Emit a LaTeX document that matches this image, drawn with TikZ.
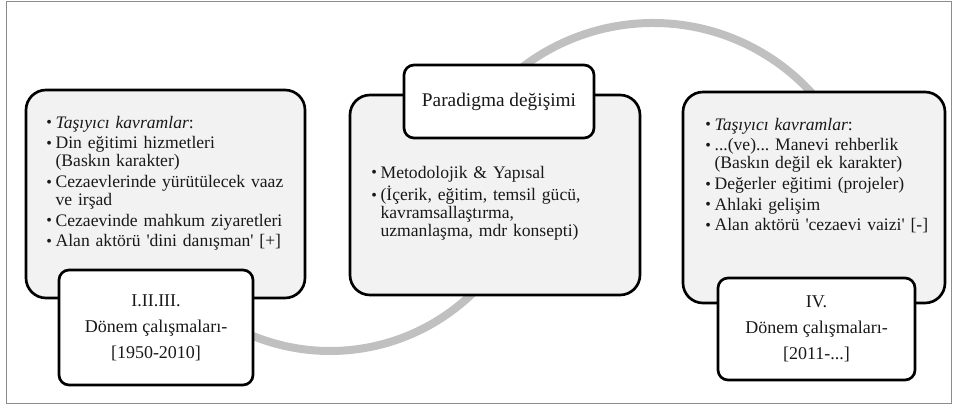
\documentclass[tikz,border=0pt]{standalone}
\usepackage{fontspec}
\setmainfont{Liberation Serif}[Ligatures=TeXOff]
\definecolor{boxfill}{HTML}{F2F2F2}
\definecolor{arcgray}{HTML}{C0C0C0}
\definecolor{framegray}{HTML}{8C8C8C}
% one bullet line, continuation lines hang under the text
\newcommand{\bul}[1]{\par\hangindent=7pt\hangafter=1\noindent\makebox[7pt][l]{\raisebox{0.4pt}{\fontsize{12}{12}\selectfont\textbullet}}#1\par\vspace{2pt}}
\tikzset{
  bigbox/.style={draw=black, line width=2pt, fill=boxfill, rounded corners=15pt, inner sep=0pt},
  labelbox/.style={draw=black, line width=2pt, fill=white, rounded corners=7.5pt, inner sep=0pt,
    align=center, text=black!90, font=\fontsize{13.5}{19.5}\selectfont},
  bodytext/.style={anchor=north west, inner sep=0pt, text width=220pt, text=black!90,
    font=\fontsize{13.2}{13.5}\selectfont\frenchspacing},
}
\begin{document}
\begin{tikzpicture}[x=0.75pt, y=-0.75pt]
        \useasboundingbox (0,0) rectangle (953,406);
        % Draw the outer frame
        \draw[framegray, line width=0.75pt] (6,1.5) rectangle (951,403.5);

        % Draw the grey wave behind the boxes
        \draw[arcgray, line width=6pt] ([shift={(330,146)}]135:205) arc[start angle=135, end angle=30, radius=205];  % lower bend
        \draw[arcgray, line width=6pt] ([shift={(653,238)}]215:215) arc[start angle=215, end angle=340, radius=215];  % upper bend

        % Left block: I.II.III. period
        \node[bigbox, minimum width=209.25pt, minimum height=156pt] (lbox) at (165.5,194) {};
        \node[bodytext] (ltext) at (46,110) {%
          \bul{\textit{Taşıyıcı kavramlar}:}
          \bul{Din eğitimi hizmetleri\newline (Baskın karakter)}
          \bul{Cezaevlerinde yürütülecek vaaz\newline ve irşad}
          \bul{Cezaevinde mahkum ziyaretleri}
          \bul{Alan aktörü 'dini danışman' [+]}};
        \node[labelbox, minimum width=145.5pt, minimum height=86.25pt] (llabel) at (156,327.5)
          {I.II.III.\\Dönem çalışmaları-\\{[1950-2010]}};

        % Middle block: paradigm shift
        \node[bigbox, minimum width=217.5pt, minimum height=150pt] (mbox) at (495,195) {};
        \node[bodytext] (mtext) at (371,160) {%
          \bul{Metodolojik \& Yapısal}
          \bul{(İçerik, eğitim, temsil gücü,\newline kavramsallaştırma,\newline uzmanlaşma, mdr konsepti)}};
        \node[labelbox, minimum width=142.5pt, minimum height=54.75pt, font=\fontsize{14.5}{16}\selectfont] (mlabel) at (499,101.5)
          {Paradigma değişimi};

        % Right block: IV. period
        \node[bigbox, minimum width=196.5pt, minimum height=158.25pt] (rbox) at (814,197.5) {};
        \node[bodytext] (rtext) at (705,112) {%
          \bul{\textit{Taşıyıcı kavramlar}:}
          \bul{...(ve)... Manevi rehberlik\newline (Baskın değil ek karakter)}
          \bul{Değerler eğitimi (projeler)}
          \bul{Ahlaki gelişim}
          \bul{Alan aktörü 'cezaevi vaizi' [-]}};
        \node[labelbox, minimum width=147.75pt, minimum height=76.5pt] (rlabel) at (816.5,329)
          {IV.\\Dönem çalışmaları-\\{[2011-...]}};
    \end{tikzpicture}
\end{document}
